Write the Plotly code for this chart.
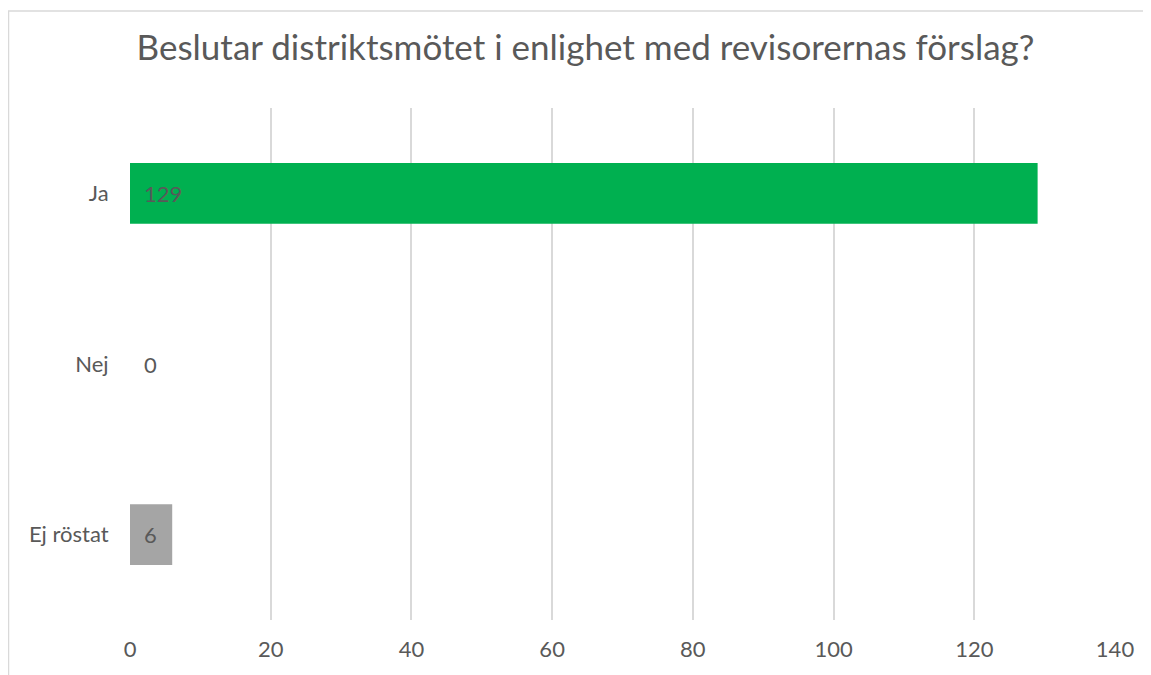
import plotly.graph_objects as go

categories = ["Ja", "Nej", "Ej röstat"]
values = [129, 0, 6]
colors = ["#00B050", "#00B050", "#A5A5A5"]
x_ticks = [0, 20, 40, 60, 80, 100, 120, 140]
title = "Beslutar distriktsmötet i enlighet med revisorernas förslag?"

FONT = "Lato, Carlito, Calibri, sans-serif"
TXT = "#595959"
FS = 22

fig = go.Figure()
fig.add_trace(go.Bar(
    y=categories, x=values, orientation="h",
    marker=dict(color=colors, line=dict(width=0)),
    hoverinfo="x+y",
))

for c, v in zip(categories, values):
    fig.add_annotation(x=0, y=c, text=str(v), showarrow=False,
                       xanchor="left", xshift=12,
                       font=dict(family=FONT, size=FS, color=TXT))

# page is offset by the 8px body margin
W, H = 1143, 667
L, R, T, B = 122, 36, 100, 55
pw, ph = W - L - R, H - T - B
fig.add_shape(type="path", xref="paper", yref="paper",
              path=f"M {(W + 60 - L)/pw} {(H - B - 3)/ph} L {(0.5 - L)/pw} {(H - B - 3)/ph} L {(0.5 - L)/pw} {(-B - 20)/ph}",
              line=dict(color="#D9D9D9", width=1.5), layer="below")

fig.update_layout(
    width=W, height=H,
    margin=dict(l=L, r=R, t=T, b=B),
    paper_bgcolor="white", plot_bgcolor="white",
    bargap=0.645,
    showlegend=False,
    title=dict(text=title, x=577.5 / W, xref="container", xanchor="center", y=1 - 40 / H, yanchor="middle",
               font=dict(family=FONT, size=35, color=TXT)),
    font=dict(family=FONT, color=TXT, size=FS),
    xaxis=dict(range=[0, 140], tickvals=x_ticks, showgrid=True, gridcolor="#D9D9D9", gridwidth=1.5,
               zeroline=False, showline=False, ticks="outside", ticklen=10, tickcolor="rgba(0,0,0,0)",
               tickfont=dict(family=FONT, size=FS, color=TXT), fixedrange=True),
    yaxis=dict(autorange="reversed", showgrid=False, zeroline=False, showline=False,
               ticks="outside", ticklen=16, tickcolor="rgba(0,0,0,0)",
               tickfont=dict(family=FONT, size=FS, color=TXT), fixedrange=True),
)

fig.write_html("out.html", config={"displayModeBar": False})
